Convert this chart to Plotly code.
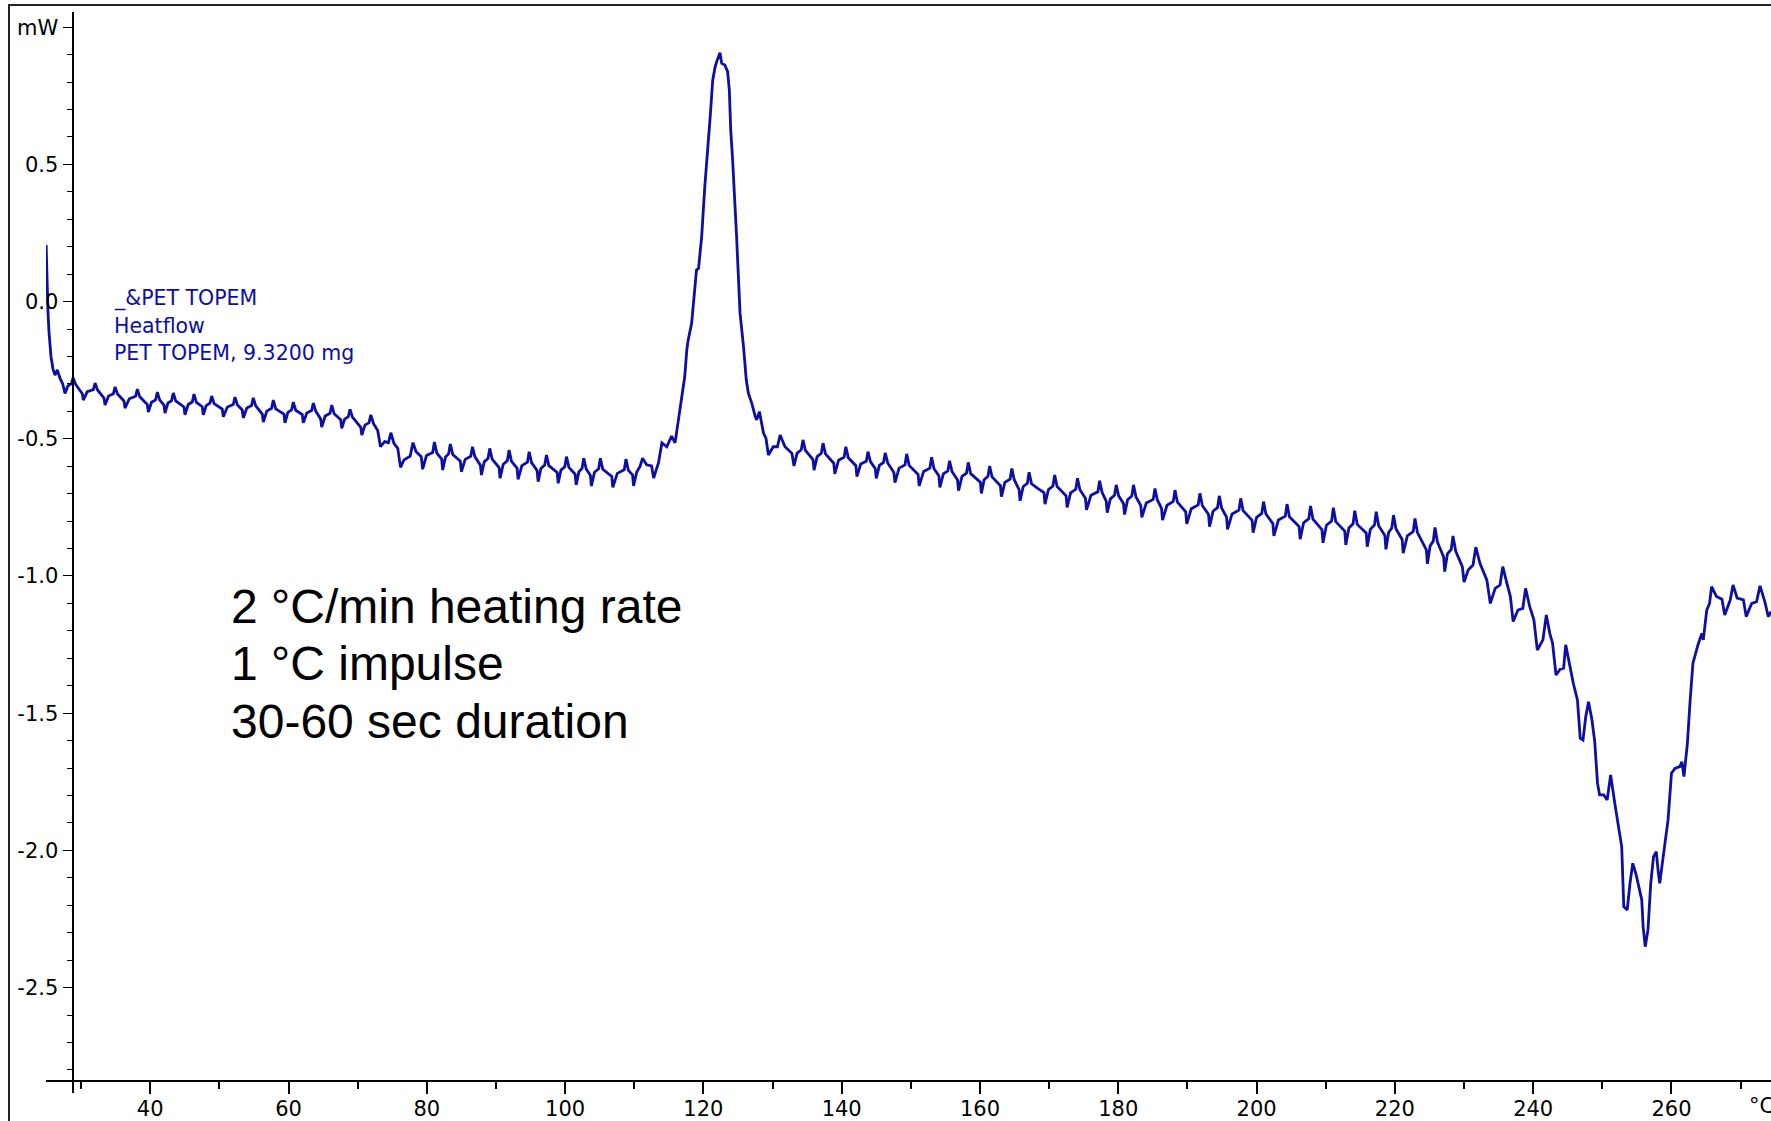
import plotly.graph_objects as go

# ---- data (temperature in degC, heat flow in mW) ----
temp_c = [
    24.95, 25.02, 25.10, 25.22, 25.36, 25.50, 25.65, 25.94, 26.23, 26.57, 26.96, 27.35, 27.68,
    28.10, 28.60, 28.84, 29.20, 30.18, 30.33,
    30.90, 31.78, 32.03, 32.38, 33.32, 33.47,
    33.98, 34.67, 34.92, 35.27, 36.21, 36.36,
    36.98, 37.89, 38.14, 38.49, 39.58, 39.73,
    40.19, 40.78, 41.03, 41.38, 41.99, 42.14,
    42.56, 43.09, 43.34, 43.69, 44.88, 45.03,
    45.49, 46.08, 46.33, 46.68, 47.53, 47.68,
    48.10, 48.64, 48.89, 49.24, 50.42, 50.57,
    51.16, 52.01, 52.26, 52.61, 53.31, 53.46,
    53.97, 54.66, 54.91, 55.26, 56.21, 56.36,
    56.86, 57.55, 57.80, 58.15, 59.34, 59.49,
    59.91, 60.44, 60.69, 61.04, 61.99, 62.14,
    62.65, 63.34, 63.59, 63.94, 64.65, 64.80,
    65.31, 66.00, 66.25, 66.60, 67.55, 67.70,
    68.12, 68.65, 68.90, 69.25, 70.45, 70.60,
    71.06, 71.65, 71.90, 72.30, 72.90, 73.30,
    73.90, 74.45, 74.80, 75.25, 75.80, 76.20,
    76.70, 77.60, 78.00, 78.45, 79.20, 79.40,
    79.95, 80.85, 81.10, 81.45, 82.15, 82.30,
    82.70, 83.15, 83.40, 83.75, 84.85, 85.00,
    85.55, 86.35, 86.60, 86.95, 87.75, 87.90,
    88.30, 88.85, 89.10, 89.45, 90.45, 90.60,
    91.05, 91.65, 91.90, 92.25, 93.05, 93.20,
    93.75, 94.55, 94.80, 95.15, 95.95, 96.10,
    96.50, 97.05, 97.30, 97.65, 98.85, 99.00,
    99.40, 99.95, 100.20, 100.55, 101.45, 101.60,
    102.00, 102.45, 102.70, 103.05, 103.65, 103.80,
    104.25, 104.85, 105.10, 105.45, 106.75, 106.90,
    107.55, 108.55, 108.80, 109.15, 109.75, 109.90,
    110.35, 110.85, 111.20, 111.80, 112.50, 112.80,
    113.50, 114.00, 114.70, 115.40, 115.90, 116.40, 116.90, 117.30, 117.60, 117.80,
    118.30, 118.50, 119.00, 119.30, 119.75, 120.20, 120.70, 120.95, 121.35, 121.70,
    122.00, 122.40, 122.65, 123.10, 123.50, 123.75, 123.95, 124.20, 124.80, 125.30,
    125.80, 126.20, 126.50, 127.00, 127.50, 127.70, 128.10, 128.70, 129.05, 129.40,
    130.10, 130.70, 131.10, 131.80, 132.80, 133.10,
    133.55, 134.15, 134.40, 134.75, 135.85, 136.00,
    136.45, 137.05, 137.30, 137.65, 138.85, 139.00,
    139.55, 140.35, 140.60, 140.95, 142.05, 142.20,
    142.75, 143.55, 143.80, 144.15, 144.85, 145.00,
    145.45, 146.05, 146.30, 146.65, 147.55, 147.70,
    148.30, 149.15, 149.40, 149.75, 151.05, 151.20,
    151.85, 152.75, 153.00, 153.35, 154.05, 154.20,
    154.70, 155.35, 155.60, 155.95, 156.75, 156.90,
    157.40, 158.05, 158.30, 158.65, 160.05, 160.20,
    160.60, 161.15, 161.40, 161.75, 162.95, 163.10,
    163.60, 164.35, 164.60, 164.95, 165.65, 165.80,
    166.25, 166.85, 167.10, 167.45, 168.30, 169.25, 169.40,
    169.90, 170.55, 170.80, 171.15, 172.45, 172.60,
    173.10, 173.85, 174.10, 174.45, 175.25, 175.40,
    176.05, 177.05, 177.30, 177.65, 178.25, 178.40,
    178.85, 179.45, 179.70, 180.05, 180.75, 180.90,
    181.35, 181.95, 182.20, 182.55, 183.25, 183.40,
    184.05, 185.05, 185.30, 185.65, 186.25, 186.40,
    187.05, 187.95, 188.20, 188.55, 189.75, 189.90,
    190.55, 191.55, 191.80, 192.15, 193.05, 193.20,
    193.70, 194.35, 194.60, 194.95, 195.65, 195.80,
    196.45, 197.45, 197.70, 198.05, 199.35, 199.50,
    200.00, 200.75, 201.00, 201.35, 202.35, 202.50,
    203.15, 204.15, 204.40, 204.75, 206.15, 206.30,
    206.80, 207.55, 207.80, 208.15, 209.45, 209.60,
    210.10, 210.85, 211.10, 211.45, 212.75, 212.90,
    213.35, 213.95, 214.20, 214.55, 215.85, 216.00,
    216.45, 217.05, 217.30, 217.65, 218.55, 218.70,
    219.10, 219.55, 219.80, 220.15, 221.05, 221.20,
    221.80, 222.65, 222.90, 223.25, 224.55, 224.70,
    225.10, 225.55, 225.80, 226.15, 227.05, 227.20,
    227.60, 228.15, 228.40, 228.80, 229.75, 230.00,
    230.60, 231.30, 231.70, 232.30, 233.30, 233.80, 234.50, 235.20, 235.60, 236.20,
    236.70, 237.10, 237.80, 238.50, 238.90, 239.50, 240.10, 240.60, 241.40, 241.90,
    242.40, 242.80, 243.30, 243.90, 244.40, 244.70, 245.20, 245.80, 246.40, 246.80,
    247.20, 247.60, 248.00, 248.50, 248.90, 249.30, 249.60, 250.20, 250.70, 251.20,
    251.80, 252.30, 252.80, 253.10, 253.60, 254.00, 254.40, 254.90, 255.40, 255.70,
    255.90, 256.20, 256.60, 257.00, 257.40, 257.80, 258.10, 258.30, 258.80, 259.50,
    260.00, 260.50, 261.20, 261.50, 261.80, 262.30, 262.70, 263.10, 263.90, 264.40,
    264.60, 265.10, 265.50, 265.80, 266.50, 267.30, 267.70, 268.50, 268.90, 269.50,
    270.40, 270.80, 271.60, 272.30, 272.80, 273.50, 274.00, 274.40,
]

heatflow_mw = [
    0.206, 0.120, 0.040, -0.040, -0.110, -0.160, -0.200, -0.245, -0.268, -0.249, -0.280, -0.300, -0.335,
    -0.307, -0.300, -0.278, -0.301, -0.336, -0.359,
    -0.328, -0.321, -0.297, -0.322, -0.352, -0.377,
    -0.344, -0.336, -0.311, -0.337, -0.362, -0.388,
    -0.354, -0.345, -0.319, -0.347, -0.375, -0.403,
    -0.367, -0.358, -0.330, -0.359, -0.377, -0.406,
    -0.370, -0.361, -0.333, -0.362, -0.384, -0.413,
    -0.375, -0.366, -0.337, -0.367, -0.383, -0.413,
    -0.379, -0.370, -0.344, -0.372, -0.392, -0.420,
    -0.384, -0.375, -0.348, -0.377, -0.395, -0.424,
    -0.388, -0.379, -0.351, -0.380, -0.410, -0.439,
    -0.399, -0.389, -0.359, -0.391, -0.410, -0.442,
    -0.404, -0.395, -0.366, -0.396, -0.412, -0.442,
    -0.406, -0.397, -0.370, -0.399, -0.428, -0.457,
    -0.417, -0.407, -0.377, -0.409, -0.430, -0.462,
    -0.428, -0.419, -0.393, -0.421, -0.458, -0.486,
    -0.450, -0.441, -0.413, -0.445, -0.470, -0.529,
    -0.510, -0.514, -0.478, -0.517, -0.535, -0.604,
    -0.577, -0.563, -0.514, -0.547, -0.565, -0.611,
    -0.561, -0.550, -0.512, -0.552, -0.574, -0.614,
    -0.566, -0.555, -0.519, -0.557, -0.582, -0.620,
    -0.575, -0.564, -0.529, -0.565, -0.596, -0.632,
    -0.584, -0.572, -0.535, -0.574, -0.605, -0.644,
    -0.593, -0.580, -0.541, -0.582, -0.607, -0.648,
    -0.598, -0.585, -0.547, -0.587, -0.616, -0.656,
    -0.608, -0.596, -0.559, -0.598, -0.623, -0.662,
    -0.614, -0.602, -0.565, -0.604, -0.629, -0.668,
    -0.620, -0.608, -0.571, -0.610, -0.633, -0.672,
    -0.622, -0.609, -0.571, -0.611, -0.637, -0.677,
    -0.626, -0.613, -0.574, -0.615, -0.631, -0.672,
    -0.622, -0.600, -0.571, -0.595, -0.599, -0.643,
    -0.588, -0.515, -0.529, -0.490, -0.515, -0.431, -0.347, -0.274, -0.176, -0.140,
    -0.079, -0.031, 0.115, 0.121, 0.237, 0.419, 0.565, 0.662, 0.808, 0.856,
    0.880, 0.907, 0.868, 0.862, 0.838, 0.771, 0.625, 0.528, 0.237, -0.043,
    -0.164, -0.286, -0.334, -0.371, -0.419, -0.431, -0.401, -0.480, -0.498, -0.559,
    -0.529, -0.529, -0.486, -0.529, -0.553, -0.599,
    -0.552, -0.540, -0.504, -0.542, -0.576, -0.614,
    -0.565, -0.553, -0.516, -0.555, -0.589, -0.628,
    -0.578, -0.567, -0.529, -0.569, -0.598, -0.638,
    -0.592, -0.582, -0.547, -0.583, -0.608, -0.644,
    -0.597, -0.586, -0.551, -0.588, -0.623, -0.660,
    -0.607, -0.595, -0.555, -0.597, -0.630, -0.672,
    -0.619, -0.607, -0.567, -0.609, -0.635, -0.677,
    -0.628, -0.617, -0.580, -0.619, -0.650, -0.689,
    -0.637, -0.625, -0.586, -0.627, -0.658, -0.699,
    -0.649, -0.637, -0.599, -0.639, -0.671, -0.711,
    -0.659, -0.647, -0.608, -0.649, -0.685, -0.726,
    -0.674, -0.662, -0.622, -0.664, -0.680, -0.696, -0.738,
    -0.685, -0.672, -0.632, -0.674, -0.708, -0.750,
    -0.697, -0.684, -0.644, -0.686, -0.717, -0.759,
    -0.706, -0.693, -0.653, -0.695, -0.727, -0.769,
    -0.719, -0.706, -0.668, -0.708, -0.736, -0.776,
    -0.722, -0.709, -0.668, -0.711, -0.743, -0.786,
    -0.734, -0.721, -0.681, -0.723, -0.754, -0.796,
    -0.742, -0.728, -0.687, -0.731, -0.766, -0.810,
    -0.755, -0.741, -0.699, -0.743, -0.776, -0.820,
    -0.764, -0.751, -0.708, -0.753, -0.785, -0.830,
    -0.774, -0.760, -0.717, -0.762, -0.797, -0.842,
    -0.786, -0.772, -0.729, -0.774, -0.809, -0.854,
    -0.796, -0.782, -0.738, -0.784, -0.820, -0.866,
    -0.806, -0.791, -0.745, -0.793, -0.831, -0.879,
    -0.815, -0.800, -0.751, -0.802, -0.836, -0.887,
    -0.825, -0.810, -0.762, -0.812, -0.843, -0.893,
    -0.830, -0.814, -0.766, -0.817, -0.852, -0.903,
    -0.841, -0.825, -0.778, -0.828, -0.867, -0.917,
    -0.854, -0.838, -0.790, -0.841, -0.905, -0.956,
    -0.890, -0.873, -0.823, -0.876, -0.931, -0.984,
    -0.919, -0.903, -0.854, -0.910, -0.966, -1.022,
    -0.978, -0.960, -0.895, -0.954, -1.015, -1.100, -1.045, -1.033, -0.966, -1.027,
    -1.075, -1.166, -1.124, -1.118, -1.045, -1.112, -1.160, -1.270, -1.233, -1.142,
    -1.209, -1.245, -1.361, -1.340, -1.336, -1.251, -1.318, -1.391, -1.452, -1.591,
    -1.598, -1.513, -1.458, -1.525, -1.604, -1.755, -1.798, -1.798, -1.816, -1.725,
    -1.828, -1.914, -1.987, -2.205, -2.217, -2.120, -2.047, -2.090, -2.156, -2.181,
    -2.278, -2.351, -2.290, -2.120, -2.023, -2.005, -2.083, -2.120, -2.023, -1.889,
    -1.719, -1.701, -1.695, -1.677, -1.731, -1.610, -1.452, -1.318, -1.245, -1.209,
    -1.233, -1.124, -1.100, -1.039, -1.075, -1.085, -1.142, -1.087, -1.033, -1.081,
    -1.087, -1.148, -1.100, -1.094, -1.036, -1.094, -1.148, -1.130,
]

y_tick_vals = [1.0, 0.5, 0.0, -0.5, -1.0, -1.5, -2.0, -2.5]
y_tick_text = ["mW", "0.5", "0.0", "-0.5", "-1.0", "-1.5", "-2.0", "-2.5"]

curve_label = ["_&PET TOPEM", "Heatflow", "PET TOPEM, 9.3200 mg"]
method_notes = ["2 \u00b0C/min heating rate", "1 \u00b0C impulse", "30-60 sec duration"]
x_unit = "\u00b0C"

# ---- layout geometry (pixels) ----
W, H = 1771, 1121
ML, MR, MT, MB = 46, 0, 12, 28
PW = W - ML - MR
PH = H - MT - MB


def px_x(px):
    return (px - ML) / PW


def px_y(py):
    return (H - MB - py) / PH


BLUE = "#0E0EA0"
TICKFONT = dict(family="DejaVu Sans, Verdana, sans-serif", size=21, color="black")

fig = go.Figure()
fig.add_trace(go.Scatter(
    x=temp_c, y=heatflow_mw, mode="lines",
    line=dict(color=BLUE, width=2.8),
    hoverinfo="skip", showlegend=False,
))

annotations = []
for i, txt in enumerate(curve_label):
    annotations.append(dict(
        text=txt, xref="paper", yref="paper",
        x=px_x(112), y=px_y(298 + 27.5 * i),
        xanchor="left", yanchor="middle", showarrow=False,
        font=dict(family="DejaVu Sans, Verdana, sans-serif", size=20.5, color=BLUE),
    ))
for i, txt in enumerate(method_notes):
    annotations.append(dict(
        text=txt, xref="paper", yref="paper",
        x=px_x(229), y=px_y(606 + 57.7 * i),
        xanchor="left", yanchor="middle", showarrow=False,
        font=dict(family="Liberation Sans, Arial, sans-serif", size=48, color="black"),
    ))
annotations.append(dict(
    text=x_unit, xref="paper", yref="paper",
    x=px_x(1747), y=px_y(1106),
    xanchor="left", yanchor="middle", showarrow=False,
    font=TICKFONT,
))

fig.update_layout(
    width=W, height=H,
    margin=dict(l=ML, r=MR, t=MT, b=MB, pad=0),
    paper_bgcolor="white", plot_bgcolor="white",
    showlegend=False,
    annotations=annotations,
    shapes=[dict(
        type="rect", xref="paper", yref="paper",
        x0=px_x(9), x1=px_x(1810), y0=px_y(1160), y1=px_y(5),
        line=dict(color="#222222", width=2), fillcolor="rgba(0,0,0,0)",
        layer="above",
    )],
    xaxis=dict(
        range=[24.93, 274.39],
        anchor="free", position=px_y(1081),
        showline=True, linecolor="black", linewidth=2,
        showgrid=False, zeroline=False,
        ticks="outside", ticklen=12, tickwidth=1.5, tickcolor="black",
        tickmode="linear", tick0=0, dtick=20,
        tickfont=TICKFONT, ticklabelstandoff=-3,
        minor=dict(ticks="outside", ticklen=7, tickwidth=1.5, tickcolor="black",
                   tickmode="linear", tick0=0, dtick=10, showgrid=False),
        automargin=False,
    ),
    yaxis=dict(
        range=[-2.8842, 1.0554],
        anchor="free", position=px_x(72.5),
        showline=True, linecolor="black", linewidth=2,
        showgrid=False, zeroline=False,
        ticks="outside", ticklen=9, tickwidth=1.2, tickcolor="black",
        tickmode="array", tickvals=y_tick_vals, ticktext=y_tick_text,
        tickfont=TICKFONT,
        minor=dict(ticks="outside", ticklen=5, tickwidth=1.2, tickcolor="black",
                   tickmode="linear", tick0=0, dtick=0.1, showgrid=False),
        automargin=False,
    ),
)

fig.write_html("out.html")
